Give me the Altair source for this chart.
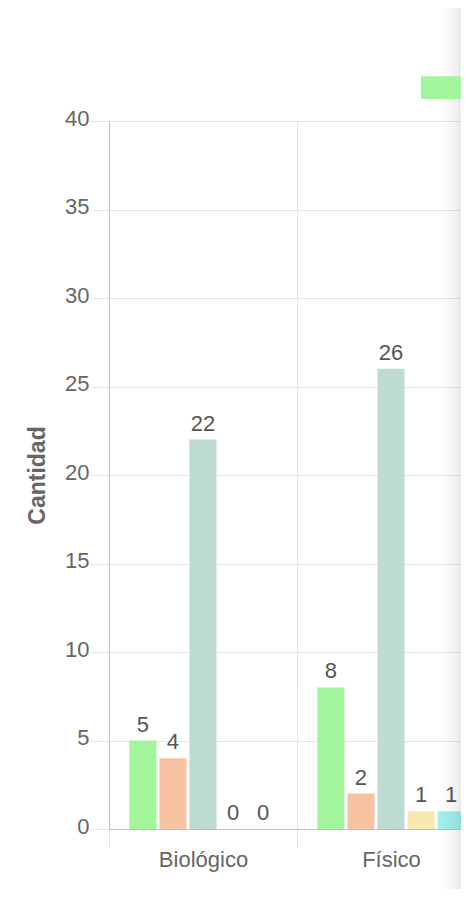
import altair as alt
import pandas as pd

# ---- data ----
categories = ["Biológico", "Físico"]
series = ["Trivial", "Tolerable", "Moderado", "Importante", "Intolerable"]
values_biologico = [5, 4, 22, 0, 0]
values_fisico = [8, 2, 26, 1, 1]
series_colors = ["#a3f59b", "#f8c3a0", "#bedbd3", "#f6e8ae", "#a0f0ee"]
y_ticks = [0, 5, 10, 15, 20, 25, 30, 35, 40]

rows = []
for cat, vals in zip(categories, [values_biologico, values_fisico]):
    for s, v in zip(series, vals):
        rows.append({"categoria": cat, "serie": s, "cantidad": v})
df = pd.DataFrame(rows)

FONT = "Liberation Sans"
W, H = 352, 708
BAND = 188

x_enc = alt.X(
    "categoria:N",
    sort=categories,
    scale=alt.Scale(domain=categories, range=[0, BAND * len(categories)],
                    paddingInner=0, paddingOuter=0),
    axis=alt.Axis(
        title=None, labelAngle=0, labelFont=FONT, labelFontSize=22,
        labelColor="#666666", labelPadding=2, tickBand="extent",
        grid=True, gridColor="#e6e6e6", tickColor="#e6e6e6", tickSize=18,
        domainColor="#bfbfbf", domainWidth=1,
    ),
)
xoff_enc = alt.XOffset("serie:N", sort=series,
                       scale=alt.Scale(domain=series, paddingInner=0.1, paddingOuter=0.675))
y_enc = alt.Y(
    "cantidad:Q",
    scale=alt.Scale(domain=[0, 40], nice=False),
    axis=alt.Axis(
        values=y_ticks, title="Cantidad", titleFont=FONT, titleFontSize=23,
        titleFontWeight="bold", titleColor="#666666", titleAngle=270,
        titleX=-72, titleY=H / 2, titleBaseline="middle", titleAlign="center",
        labelFont=FONT, labelFontSize=22, labelColor="#666666", labelPadding=1,
        labelOffset=-3, grid=True, gridColor="#e6e6e6", tickColor="#e6e6e6",
        tickSize=19, domainColor="#bfbfbf",
    ),
)

bars = alt.Chart(df).mark_bar().encode(
    x=x_enc,
    xOffset=xoff_enc,
    y=y_enc,
    color=alt.Color(
        "serie:N", sort=series,
        scale=alt.Scale(domain=series, range=series_colors),
        legend=alt.Legend(
            orient="none", legendX=312, legendY=-57, direction="horizontal",
            title=None, symbolType="M-1,-0.48H1V0.48H-1Z", symbolSize=2209,
            symbolStrokeWidth=0, symbolOpacity=1, labelExpr="''",
            labelFontSize=20, padding=0, columnPadding=20,
        ),
    ),
)

labels = alt.Chart(df).mark_text(
    baseline="bottom", dy=-4, fontSize=22, font=FONT, color="#555555"
).encode(
    x=alt.X("categoria:N", sort=categories),
    xOffset=alt.XOffset("serie:N", sort=series),
    y="cantidad:Q",
    text="cantidad:Q",
)

shadow_df = pd.DataFrame({"k": [0]})
shadow = alt.Chart(shadow_df).mark_rect(
    color=alt.Gradient(
        gradient="linear", x1=0, x2=1, y1=0, y2=0,
        stops=[alt.GradientStop(color="rgba(0,0,0,0)", offset=0),
               alt.GradientStop(color="rgba(0,0,0,0.05)", offset=0.7),
               alt.GradientStop(color="rgba(0,0,0,0.09)", offset=1)],
    )
).encode(
    x=alt.value(W - 22), x2=alt.value(W + 1),
    y=alt.value(-113), y2=alt.value(H + 60),
)

chart = alt.layer(bars, labels, shadow).properties(
    width=W, height=H,
    autosize=alt.AutoSizeParams(type="none"),
    padding={"left": 101, "top": 113, "right": 0, "bottom": 60},
).configure_view(stroke=None).configure(background="white")

chart.save("out.html", embed_options={"renderer": "svg", "actions": False})
